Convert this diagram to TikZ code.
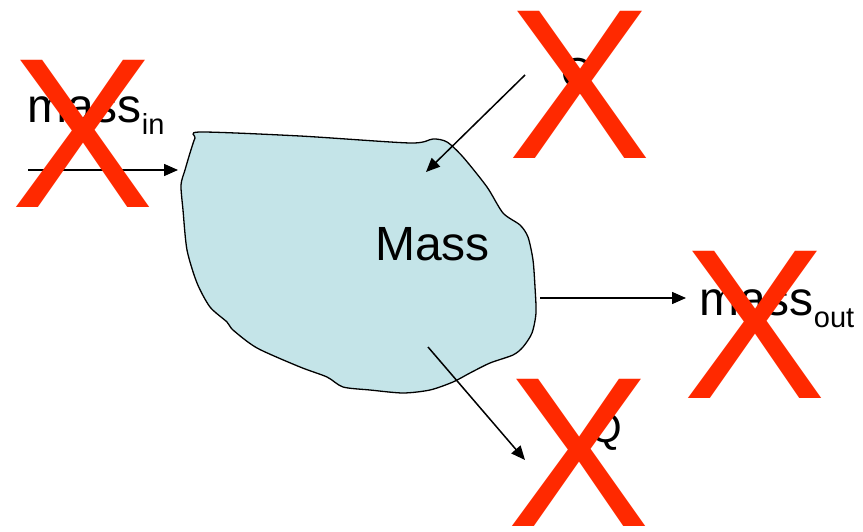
\documentclass[tikz,border=0pt]{standalone}
\usepackage{fontspec}
\setmainfont{Liberation Sans}
\usetikzlibrary{arrows.meta}
\definecolor{blobfill}{RGB}{196,228,232}
\definecolor{xred}{RGB}{255,41,0}
\tikzset{
  flow/.style={line width=1.5pt,-{Triangle[length=14pt,width=12pt]}},
  lbl/.style={inner sep=0pt,font=\fontsize{48}{48}\selectfont},
  qlbl/.style={inner sep=0pt,font=\fontsize{42}{42}\selectfont},
  cross/.style={inner sep=0pt,text=xred,font=\fontsize{214}{214}\selectfont},
  blob/.style={draw=black,line width=1.3pt,fill=blobfill}
}
\newcommand{\subtxt}[1]{\raisebox{-12pt}{\fontsize{29}{29}\selectfont #1}}
\begin{document}
\begin{tikzpicture}[x=1pt,y=-1pt]
\useasboundingbox (0,0) rectangle (863,532);
% control volume
\draw[blob] plot[smooth cycle,tension=0.45] coordinates {
 (200,132) (300,136) (410,143) (433,139) (447,142) (463,157) (487,187)
 (503,213) (520,225) (528,237) (533,260) (535,287) (536,313) (532,333)
 (523,347) (513,355) (490,363) (470,373) (453,382) (430,390) (403,393)
 (370,390) (343,387) (327,377) (300,367) (257,348) (233,330) (227,322)
 (210,307) (197,283) (187,250) (183,210) (181,185) (185,170) (190,153) (195,138)};
% labels
\node[lbl,anchor=base west] (mass) at (375,260) {Mass};
\node[lbl,anchor=base west] (min) at (27,123) {mass\subtxt{in}};
\node[lbl,anchor=base west] (mout) at (699,315) {mass\subtxt{out}};
\node[qlbl,anchor=base] (qin) at (578,88) {Q};
\node[qlbl,anchor=base west] (qout) at (589,442) {Q};
% arrow end points
\coordinate (a1s) at (28,170);  \coordinate (a1e) at (178,170);
\coordinate (a2s) at (525,75);  \coordinate (a2e) at (426,172);
\coordinate (a3s) at (540,298); \coordinate (a3e) at (686,298);
\coordinate (a4s) at (428,347); \coordinate (a4e) at (525,460);
\draw[flow] (a1s) -- (a1e);
\draw[flow] (a2s) -- (a2e);
\draw[flow] (a3s) -- (a3e);
\draw[flow] (a4s) -- (a4e);
% crosses
\node[cross] (x1) at (83,133.5) {X};
\node[cross] (x2) at (579.5,85) {X};
\node[cross] (x3) at (755,325) {X};
\node[cross] (x4) at (578.5,453) {X};
\end{tikzpicture}
\end{document}
